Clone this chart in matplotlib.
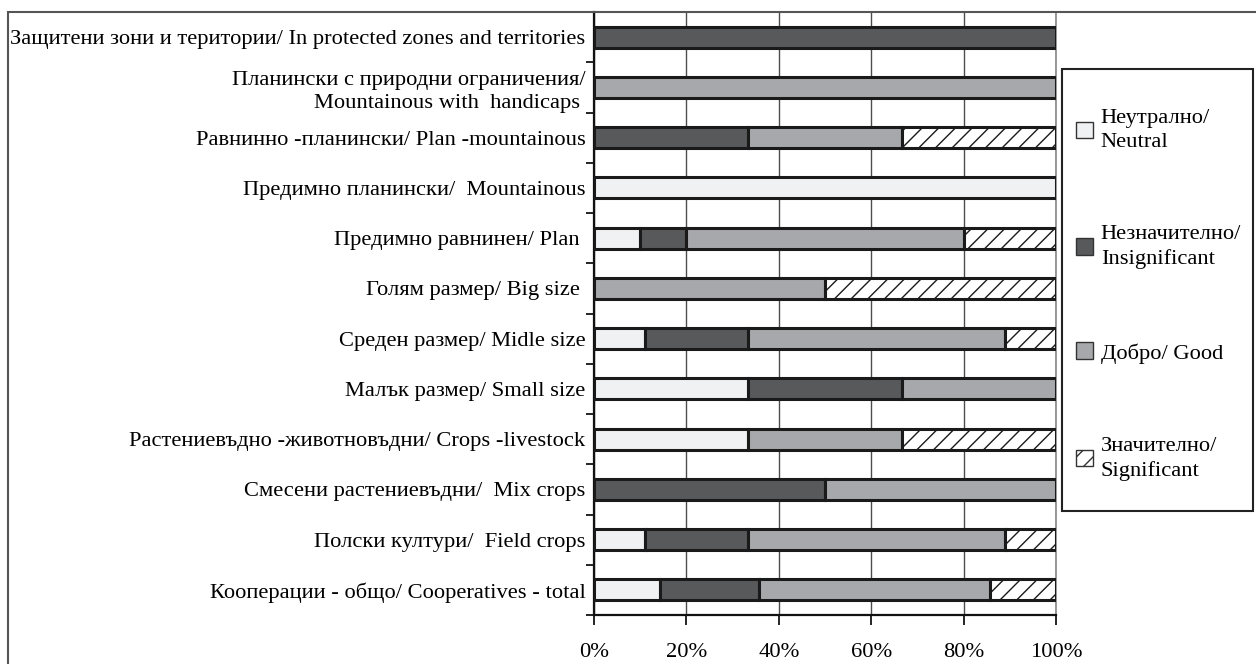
import matplotlib
matplotlib.use("Agg")
import matplotlib.pyplot as plt
import matplotlib.patches as mpatches
import numpy as np

plt.rcParams['font.family'] = ['Liberation Serif', 'DejaVu Serif']
plt.rcParams['hatch.linewidth'] = 1.0
plt.rcParams['hatch.color'] = 'black'

# categories, top to bottom as in the picture
labels = [
    "Защитени зони и територии/ In protected zones and territories",
    "Планински с природни ограничения/\nMountainous with  handicaps ",
    "Равнинно -планински/ Plan -mountainous",
    "Предимно планински/  Mountainous",
    "Предимно равнинен/ Plan ",
    "Голям размер/ Big size ",
    "Среден размер/ Midle size",
    "Малък размер/ Small size",
    "Растениевъдно -животновъдни/ Crops -livestock",
    "Смесени растениевъдни/  Mix crops",
    "Полски култури/  Field crops",
    "Кооперации - общо/ Cooperatives - total",
]

# shares in percent
neutral = [0, 0, 0, 100, 10, 0, 11.1, 33.3, 33.3, 0, 11.1, 14.3]
insignificant = [100, 0, 33.3, 0, 10, 0, 22.2, 33.3, 0, 50, 22.2, 21.4]
good = [0, 100, 33.3, 0, 60, 50, 55.6, 33.4, 33.4, 50, 55.6, 50]
significant = [0, 0, 33.4, 0, 20, 50, 11.1, 0, 33.3, 0, 11.1, 14.3]

series_names = ["Неутрално/\nNeutral", "Незначително/\nInsignificant",
                "Добро/ Good", "Значително/\nSignificant"]
fills = ["#f0f1f2", "#58595b", "#a7a8ab", "white"]
hatches = [None, None, None, "//"]

FS = 16.2

fig = plt.figure(figsize=(12.56, 6.64), dpi=100)
ax = fig.add_axes([594 / 1256, 1 - 615 / 664, (1056 - 594) / 1256, (615 - 12) / 664])

y = np.arange(len(labels))[::-1]
left = np.zeros(len(labels))
handles = []
for vals, name, fc, h in zip([neutral, insignificant, good, significant],
                             series_names, fills, hatches):
    vals = np.array(vals, dtype=float)
    m = vals > 0
    ax.barh(y[m], vals[m], left=left[m], height=0.42, color=fc,
            edgecolor='#1a1a1a', linewidth=2.2, hatch=h, zorder=3)
    left += vals
    handles.append(mpatches.Patch(facecolor=fc, edgecolor='#333333',
                                  linewidth=1.0, hatch=h, label=name))

ax.set_xlim(0, 100)
ax.set_ylim(-0.5, len(labels) - 0.5)
ax.set_xticks(np.arange(0, 101, 20))
ax.set_xticklabels(["%d%%" % v for v in range(0, 101, 20)], fontsize=FS)
ax.set_yticks(y)
ax.set_yticklabels(labels, fontsize=FS, multialignment='right', linespacing=1.3)
ax.set_yticks(np.arange(-0.5, len(labels), 1), minor=True)
ax.tick_params(axis='y', which='major', length=0, pad=6)
ax.tick_params(axis='y', which='minor', length=6, width=1.2, direction='out')
ax.tick_params(axis='x', length=7, width=1.2, direction='out', pad=13)

ax.grid(axis='x', color='#4d4d4d', linewidth=1.0, zorder=0)
ax.set_axisbelow(True)
for side in ['left', 'bottom']:
    ax.spines[side].set_linewidth(1.6)
    ax.spines[side].set_color('#111111')
ax.spines['right'].set_color('#888888')
ax.spines['right'].set_linewidth(1.2)
ax.spines['top'].set_color('#666666')
ax.spines['top'].set_linewidth(1.2)

# outer frame of the chart area
fig.patches.append(mpatches.Rectangle((8 / 1256, -0.1), 1.2, 1 - 12 / 664 + 0.1,
                                      transform=fig.transFigure, fill=False,
                                      edgecolor='#555555', linewidth=1.5))

# legend box drawn separately, entries placed inside it
fig.patches.append(mpatches.Rectangle((1062 / 1256, 1 - 511 / 664), 191 / 1256, 442 / 664,
                                      transform=fig.transFigure, fill=False,
                                      edgecolor='#222222', linewidth=1.5))
leg = fig.legend(handles=handles, loc='center left',
                 bbox_to_anchor=(1076 / 1256, 1 - 295 / 664),
                 fontsize=FS, frameon=False, labelspacing=3.25,
                 handlelength=0.75, handleheight=0.75, handletextpad=0.35,
                 borderpad=0, borderaxespad=0)
for t in leg.get_texts():
    t.set_linespacing(1.35)

fig.savefig("out.png", dpi=100)
